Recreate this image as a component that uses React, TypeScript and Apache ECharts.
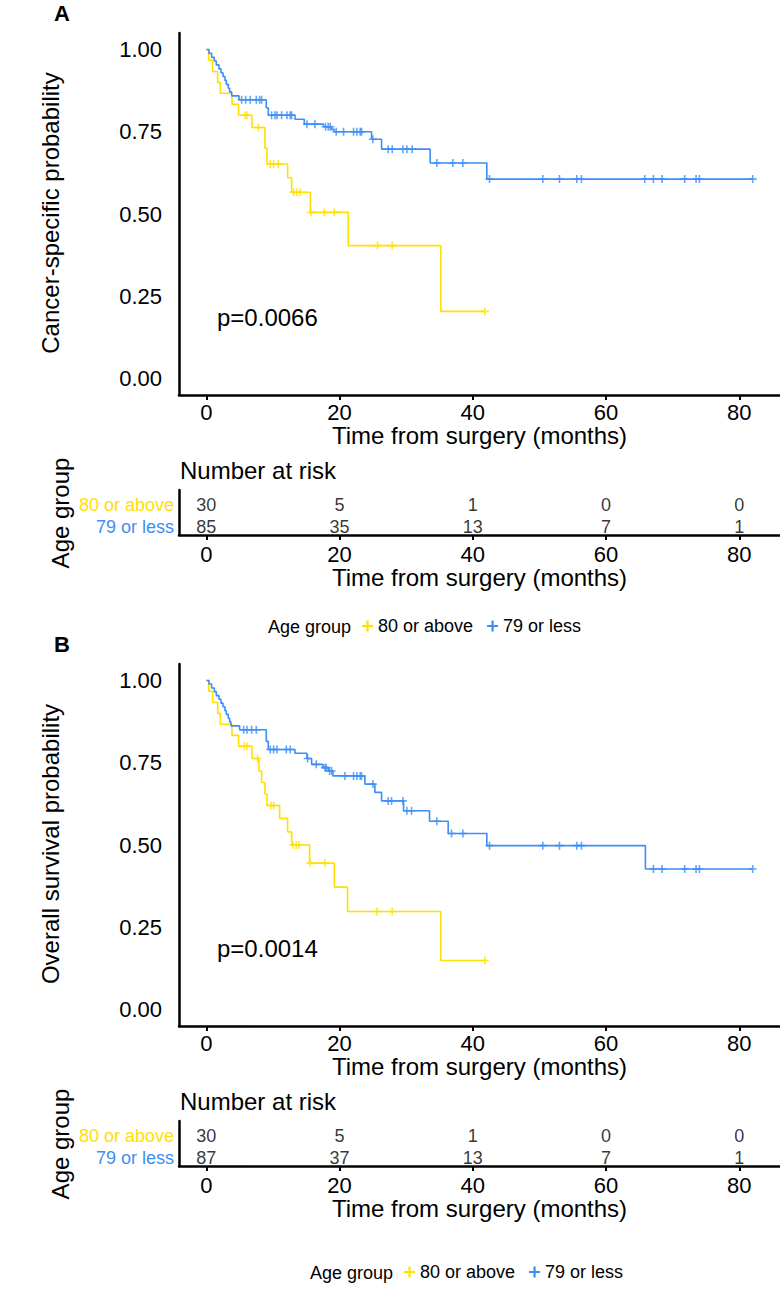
import React, { useEffect, useRef } from "react";
import * as echarts from "echarts";

const YELLOW = "#FFE000";
const BLUE = "#3D8EF5";
const FONT = "'Liberation Sans', Arial, Helvetica, sans-serif";
const OLD = "80 or above";
const YOUNG = "79 or less";

// ---------- Panel A: cancer-specific survival ----------
const stepsA_old: number[][] = [
  [0, 1], [0.35, 0.967], [0.95, 0.933], [1.7, 0.9], [2.1, 0.867], [3.85, 0.833],
  [4.85, 0.8], [6.85, 0.763], [8.8, 0.7], [9.1, 0.652], [12.2, 0.61], [12.8, 0.566],
  [15.6, 0.505], [21.3, 0.404], [35.2, 0.204],
];
const endA_old = 41.8;
const censA_old = [5.8, 6.1, 7.8, 9.6, 10.1, 10.8, 13.1, 13.6, 14.1, 15.7, 17.7, 19.2, 25.7, 27.9, 41.8];

const stepsA_young: number[][] = [
  [0, 1], [0.4, 0.988], [0.8, 0.976], [1.2, 0.965], [1.5, 0.953], [1.9, 0.941],
  [2.2, 0.929], [2.5, 0.918], [2.8, 0.906], [3.0, 0.894], [3.3, 0.882], [3.5, 0.871],
  [3.8, 0.859], [4.9, 0.847], [9.0, 0.823], [9.3, 0.8], [13.3, 0.788], [14.7, 0.773],
  [17.6, 0.765], [18.8, 0.757], [19.2, 0.75], [24.8, 0.727], [26.3, 0.697],
  [33.6, 0.655], [42.1, 0.606],
];
const endA_young = 82;
const censA_young = [
  5.3, 5.9, 6.6, 7.5, 8.0, 8.3, 9.8, 10.3, 10.6, 11.3, 12.1, 12.6, 12.8, 15.1, 16.3,
  17.9, 18.3, 18.6, 19.5, 20.6, 22.1, 22.6, 23.1, 23.3, 25.0, 27.3, 27.9, 29.5, 30.1,
  30.9, 34.6, 37.0, 38.5, 42.5, 50.5, 53.0, 55.6, 56.3, 65.8, 67.1, 68.4, 71.8, 73.5,
  74.0, 82.0,
];

// ---------- Panel B: overall survival ----------
const stepsB_old: number[][] = [
  [0, 1], [0.35, 0.967], [0.95, 0.933], [1.7, 0.9], [2.1, 0.867], [3.85, 0.833],
  [4.85, 0.8], [6.85, 0.763], [7.9, 0.725], [8.3, 0.69], [8.8, 0.655], [9.1, 0.62],
  [11.0, 0.581], [12.2, 0.54], [12.8, 0.5], [15.5, 0.445], [19.2, 0.372], [21.2, 0.298],
  [35.2, 0.149],
];
const endB_old = 41.8;
const censB_old = [5.7, 6.1, 7.7, 9.7, 10.1, 13.0, 13.5, 13.9, 15.6, 17.8, 25.6, 27.9, 41.8];

const stepsB_young: number[][] = [
  [0, 1], [0.4, 0.989], [0.8, 0.977], [1.2, 0.966], [1.5, 0.954], [1.9, 0.943],
  [2.2, 0.931], [2.5, 0.92], [2.8, 0.908], [3.0, 0.897], [3.3, 0.885], [3.5, 0.874],
  [3.7, 0.862], [5.0, 0.85], [9.0, 0.815], [9.3, 0.79], [13.3, 0.779], [15.1, 0.763],
  [15.8, 0.745], [17.5, 0.735], [18.3, 0.725], [19.0, 0.71], [23.8, 0.685],
  [25.3, 0.66], [26.3, 0.634], [29.6, 0.604], [33.5, 0.572], [36.3, 0.535],
  [42.1, 0.498], [65.9, 0.427],
];
const endB_young = 82;
const censB_young = [
  5.6, 6.1, 6.8, 7.5, 9.6, 10.1, 10.6, 12.0, 12.6, 15.2, 16.5, 17.8, 18.0, 18.5, 18.8,
  20.8, 22.1, 22.6, 23.1, 23.3, 25.0, 27.3, 27.8, 29.5, 30.1, 30.8, 34.6, 36.8, 38.5,
  42.5, 50.5, 53.0, 55.6, 56.3, 67.1, 68.4, 71.8, 73.5, 74.0, 82.0,
];

// ---------- Number at risk ----------
const riskTimes = [0, 20, 40, 60, 80];
const riskA_old = [30, 5, 1, 0, 0];
const riskA_young = [85, 35, 13, 7, 1];
const riskB_old = [30, 5, 1, 0, 0];
const riskB_young = [87, 37, 13, 7, 1];

const xTicks = [0, 20, 40, 60, 80];
const yTicks = [0, 0.25, 0.5, 0.75, 1];

const CROSS = "path://M-1,-0.2H1V0.2H-1Z M-0.2,-1H0.2V1H-0.2Z";

function survAt(steps: number[][], t: number) {
  let s = steps[0][1];
  for (const [tt, v] of steps) if (tt <= t) s = v;
  return s;
}
function curve(steps: number[][], end: number) {
  return [...steps, [end, steps[steps.length - 1][1]]];
}
function marks(steps: number[][], times: number[]) {
  return times.map((t) => [t, survAt(steps, t)]);
}

export default function App() {
  const ref = useRef<HTMLDivElement>(null);
  useEffect(() => {
    if (!ref.current) return;
    const chart = echarts.init(ref.current, undefined, { renderer: "svg" });

    const OFF = 631;
    const W = 601;
    const grids = [
      { left: 179, top: 33, width: W, height: 362 },
      { left: 179, top: 490, width: W, height: 45 },
      { left: 179, top: 33 + OFF, width: W, height: 362 },
      { left: 179, top: 490 + OFF, width: W, height: 45 },
    ].map((g) => ({ ...g, containLabel: false, outerBoundsMode: "none" }));

    const axisLine = { show: true, onZero: false, lineStyle: { color: "#000", width: 2.5 } };
    const mkX = (gi: number, risk: boolean) => ({
      type: "value",
      gridIndex: gi,
      min: -4.1,
      max: 86.1,
      axisLine,
      axisTick: { show: true, length: 5, lineStyle: { color: "#000", width: 2 }, customValues: xTicks },
      axisLabel: {
        customValues: xTicks,
        fontSize: 22,
        fontFamily: FONT,
        color: "#000",
        margin: risk ? 8 : 6,
      },
      splitLine: { show: false },
      name: "Time from surgery (months)",
      nameLocation: "middle",
      nameGap: risk ? 29 : 25,
      nameTextStyle: { fontSize: 24, fontFamily: FONT, color: "#000" },
    });
    const mkYMain = (gi: number) => ({
      type: "value",
      gridIndex: gi,
      min: -0.05,
      max: 1.05,
      axisLine,
      axisTick: { show: false },
      axisLabel: {
        customValues: yTicks,
        formatter: (v: number) => v.toFixed(2),
        fontSize: 22,
        fontFamily: FONT,
        color: "#000",
        margin: 17,
      },
      splitLine: { show: false },
    });
    const mkYRisk = (gi: number) => ({
      type: "value",
      gridIndex: gi,
      min: -0.36,
      max: 1.68,
      axisLine,
      axisTick: { show: false },
      axisLabel: {
        customValues: [0, 1],
        formatter: (v: number) => (v === 1 ? "{o|" + OLD + "}" : "{y|" + YOUNG + "}"),
        rich: {
          o: { color: YELLOW, fontSize: 18, fontFamily: FONT },
          y: { color: BLUE, fontSize: 18, fontFamily: FONT },
        },
        margin: 5,
      },
      splitLine: { show: false },
    });

    const lineS = (name: string, color: string, data: number[][], gi: number) => ({
      type: "line",
      name,
      xAxisIndex: gi,
      yAxisIndex: gi,
      step: "end",
      data,
      showSymbol: false,
      symbol: "none",
      lineStyle: { color, width: 1.6 },
      itemStyle: { color },
      z: 3,
    });
    const censS = (name: string, color: string, data: number[][], gi: number) => ({
      type: "scatter",
      name,
      xAxisIndex: gi,
      yAxisIndex: gi,
      data,
      symbol: CROSS,
      symbolSize: 8,
      itemStyle: { color },
      z: 4,
    });
    const riskS = (vals: number[], row: number, gi: number) => ({
      type: "scatter",
      xAxisIndex: gi,
      yAxisIndex: gi,
      data: riskTimes.map((t, i) => [t, row, vals[i]]),
      symbolSize: 1,
      itemStyle: { color: "rgba(0,0,0,0)" },
      label: {
        show: true,
        position: "inside",
        formatter: (p: any) => String(p.value[2]),
        fontSize: 18,
        fontFamily: FONT,
        color: "#000",
      },
    });

    const txt = (text: string, x: number, y: number, opts: any = {}) => ({
      type: "text",
      x,
      y,
      rotation: opts.rotation || 0,
      style: {
        text,
        fontSize: opts.fontSize || 24,
        fontFamily: FONT,
        fontWeight: opts.bold ? "bold" : "normal",
        fill: "#000",
        align: opts.align || "left",
        verticalAlign: "middle",
      },
    });

    const legendCommon = {
      data: [OLD, YOUNG],
      icon: CROSS,
      itemWidth: 11,
      itemHeight: 11,
      itemGap: 14,
      padding: 0,
      selectedMode: false,
      textStyle: { fontSize: 18, fontFamily: FONT, color: "#000" },
    };

    chart.setOption({
      animation: false,
      backgroundColor: "#fff",
      grid: grids,
      xAxis: [mkX(0, false), mkX(1, true), mkX(2, false), mkX(3, true)],
      yAxis: [mkYMain(0), mkYRisk(1), mkYMain(2), mkYRisk(3)],
      legend: [
        { ...legendCommon, left: 362, top: 617 },
        { ...legendCommon, left: 404, top: 1263 },
      ],
      series: [
        lineS(OLD, YELLOW, curve(stepsA_old, endA_old), 0),
        lineS(YOUNG, BLUE, curve(stepsA_young, endA_young), 0),
        censS(OLD, YELLOW, marks(stepsA_old, censA_old), 0),
        censS(YOUNG, BLUE, marks(stepsA_young, censA_young), 0),
        riskS(riskA_old, 1, 1),
        riskS(riskA_young, 0, 1),
        lineS(OLD, YELLOW, curve(stepsB_old, endB_old), 2),
        lineS(YOUNG, BLUE, curve(stepsB_young, endB_young), 2),
        censS(OLD, YELLOW, marks(stepsB_old, censB_old), 2),
        censS(YOUNG, BLUE, marks(stepsB_young, censB_young), 2),
        riskS(riskB_old, 1, 3),
        riskS(riskB_young, 0, 3),
      ],
      graphic: [
        txt("A", 62, 13, { bold: true, align: "center", fontSize: 22 }),
        txt("B", 62, 13 + OFF, { bold: true, align: "center", fontSize: 22 }),
        txt("Cancer-specific probability", 50, 213, { rotation: Math.PI / 2, align: "center" }),
        txt("Overall survival probability", 50, 213 + OFF, { rotation: Math.PI / 2, align: "center" }),
        txt("Age group", 60, 513, { rotation: Math.PI / 2, align: "center" }),
        txt("Age group", 60, 513 + OFF, { rotation: Math.PI / 2, align: "center" }),
        txt("Number at risk", 180, 470),
        txt("Number at risk", 180, 470 + OFF),
        txt("p=0.0066", 217, 317),
        txt("p=0.0014", 217, 317 + OFF),
        txt("Age group", 268, 627, { fontSize: 18 }),
        txt("Age group", 310, 1273, { fontSize: 18 }),
      ],
    });
    return () => chart.dispose();
  }, []);
  return (
    <div
      ref={ref}
      style={{ position: "absolute", left: 0, top: 0, width: 780, height: 1290, background: "#fff" }}
    />
  );
}
